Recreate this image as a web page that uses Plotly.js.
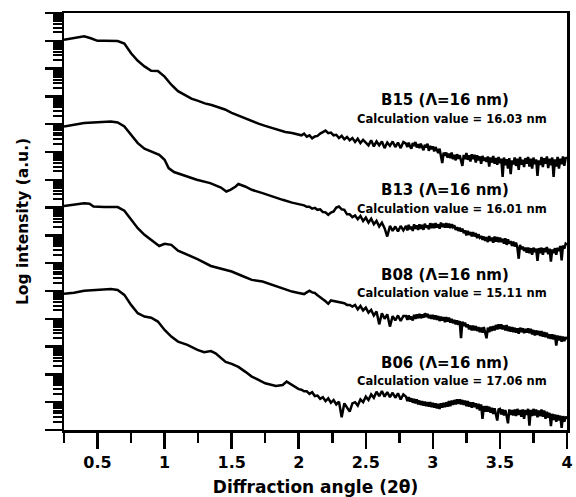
<!DOCTYPE html>
<html><head><meta charset="utf-8">
<script src="https://cdn.plot.ly/plotly-3.0.1.min.js"></script>
<style>html,body{margin:0;padding:0;background:#fff}#chart{width:576px;height:497px}</style>
</head><body><div id="chart"></div>
<script>
// Shared high-angle sampling (degrees 2θ)
const tailAngles = [
 2.02,2.04,2.06,2.08,2.10,2.12,2.14,2.16,2.18,2.20,
 2.22,2.24,2.26,2.28,2.30,2.32,2.34,2.36,2.38,2.40,
 2.42,2.44,2.46,2.48,2.50,2.52,2.54,2.56,2.58,2.60,
 2.62,2.64,2.66,2.68,2.70,2.72,2.74,2.76,2.78,
 2.80,2.81,2.82,2.83,2.84,2.85,2.86,2.87,2.88,2.89,
 2.90,2.91,2.92,2.93,2.94,2.95,2.96,2.97,2.98,2.99,
 3.00,3.01,3.02,3.03,3.04,3.05,3.06,3.07,3.08,3.09,
 3.10,3.11,3.12,3.13,3.14,3.15,3.16,3.17,3.18,3.19,
 3.20,3.21,3.22,3.23,3.24,3.25,3.26,3.27,3.28,3.29,
 3.30,3.31,3.32,3.33,3.34,3.35,3.36,3.37,3.38,3.39,
 3.40,3.41,3.42,3.43,3.44,3.45,3.46,3.47,3.48,3.49,
 3.50,3.51,3.52,3.53,3.54,3.55,3.56,3.57,3.58,3.59,
 3.60,3.61,3.62,3.63,3.64,3.65,3.66,3.67,3.68,3.69,
 3.70,3.71,3.72,3.73,3.74,3.75,3.76,3.77,3.78,3.79,
 3.80,3.81,3.82,3.83,3.84,3.85,3.86,3.87,3.88,3.89,
 3.90,3.91,3.92,3.93,3.94,3.95,3.96,3.97,3.98,3.99,
 4.00];

// log10 intensity values (offset curves)
const b15Angles = [0.25,0.30,0.35,0.40,0.45,0.50,0.55,0.60,0.65,0.70,0.75,0.80,0.85,0.90,0.95,1.00,1.05,1.10,1.15,1.20,1.25,1.30,1.35,1.40,1.45,1.50,1.55,1.60,1.65,1.70,1.75,1.80,1.85,1.90,1.95,2.00];
const b15Head = [14.04,14.08,14.13,14.16,14.09,14.00,14.00,14.00,13.99,13.90,13.55,13.28,13.08,12.92,12.91,12.71,12.42,12.19,12.04,11.92,11.84,11.75,11.69,11.61,11.53,11.41,11.31,11.21,11.10,11.02,10.94,10.86,10.78,10.72,10.68,10.63];
const b15Tail = [
 10.60,10.66,10.55,10.60,10.49,10.56,10.58,10.66,10.71,10.77,
 10.68,10.70,10.60,10.62,10.50,10.58,10.46,10.54,10.42,10.50,
 10.36,10.48,10.32,10.44,10.34,10.24,10.42,10.20,10.38,10.24,
 10.38,10.14,10.34,10.22,10.38,10.18,10.34,10.14,10.36,
 10.30,10.18,10.34,10.20,10.12,10.32,10.22,10.36,10.16,10.28,
 10.14,10.30,10.20,10.06,10.26,10.16,10.30,10.04,10.22,10.10,
 10.20,10.02,10.18,10.08,9.96,10.12,9.90,9.60,9.98,9.86,
 9.98,9.80,9.94,9.78,9.98,9.74,9.90,9.70,9.92,9.76,
 9.88,9.70,9.50,9.90,9.74,9.96,9.72,9.88,9.66,9.92,
 9.74,9.90,9.62,9.88,9.70,9.84,9.58,9.86,9.68,9.80,
 9.64,9.84,9.48,9.80,9.62,9.86,9.58,9.78,9.54,9.82,
 9.60,9.76,9.10,9.80,9.52,9.74,9.40,9.78,9.20,9.70,
 9.56,9.80,9.50,9.76,9.36,9.82,9.54,9.72,9.46,9.78,
 9.58,9.82,9.48,9.76,9.40,9.80,9.56,9.74,9.14,9.70,
 9.54,9.82,9.46,9.78,9.58,9.84,9.42,9.76,9.52,9.80,
 9.10,9.74,9.48,9.82,9.40,9.76,9.56,9.84,9.50,9.78,
 9.80];

const b13Angles = [0.25,0.40,0.60,0.65,0.70,0.75,0.80,0.85,0.90,0.96,1.00,1.03,1.07,1.15,1.24,1.34,1.42,1.46,1.49,1.53,1.55,1.60,1.65,1.73,1.80,1.88,1.95,2.00];
const b13Head = [10.92,11.04,11.10,11.06,10.92,10.62,10.32,10.12,10.02,9.90,9.72,9.42,9.28,9.15,9.00,8.88,8.72,8.58,8.64,8.76,8.85,8.76,8.64,8.52,8.40,8.28,8.18,8.13];
const b13Tail = [
 8.10,8.08,8.03,8.03,7.96,7.99,7.92,7.94,7.84,7.83,
 7.74,7.82,7.86,8.00,8.04,7.94,7.92,7.76,7.76,7.66,
 7.72,7.58,7.70,7.52,7.64,7.46,7.60,7.40,7.52,7.32,
 7.46,7.26,6.96,7.34,7.16,7.32,7.14,7.34,7.18,
 7.34,7.18,7.38,7.22,7.32,7.16,7.40,7.24,7.36,7.20,
 7.40,7.24,7.38,7.20,7.42,7.28,7.36,7.22,7.44,7.26,
 7.42,7.26,7.44,7.28,7.40,7.24,7.46,7.30,7.42,7.28,
 7.44,7.28,7.42,7.26,7.40,7.30,7.36,7.20,7.30,7.16,
 7.28,7.14,7.24,7.08,7.18,7.00,7.16,7.02,7.12,6.96,
 7.12,6.96,7.08,6.90,7.04,6.92,6.98,6.84,6.96,6.80,
 6.94,6.76,6.98,6.80,6.92,6.74,6.96,6.78,6.94,6.76,
 6.92,6.76,6.88,6.70,6.90,6.66,6.86,6.70,6.80,6.62,
 6.78,6.60,6.74,6.56,6.16,6.66,6.50,6.60,6.44,6.56,
 6.38,6.56,6.36,6.54,6.30,6.56,6.40,6.52,6.08,6.54,
 6.36,6.56,6.30,6.54,6.40,6.58,6.32,6.52,6.06,6.50,
 6.36,6.54,6.30,6.56,6.44,6.62,6.10,6.64,6.52,6.70,
 6.66];

const b08Angles = [0.25,0.325,0.40,0.44,0.47,0.55,0.65,0.70,0.75,0.80,0.85,0.90,0.96,1.00,1.05,1.10,1.17,1.245,1.345,1.42,1.50,1.58,1.65,1.73,1.80,1.88,1.95,2.00];
const b08Head = [8.06,8.10,8.16,8.14,8.04,8.02,8.02,7.89,7.56,7.26,7.02,6.84,6.62,6.70,6.66,6.45,6.30,6.15,5.90,5.79,5.70,5.54,5.40,5.34,5.22,5.10,4.98,4.93];
const b08Tail = [
 4.92,4.89,4.95,5.01,4.95,4.93,4.85,4.79,4.70,4.63,
 4.54,4.66,4.64,4.60,4.60,4.56,4.56,4.50,4.50,4.44,
 4.50,4.34,4.46,4.30,4.40,4.22,4.32,4.12,4.26,3.80,
 4.20,4.00,4.16,3.72,4.10,3.94,4.12,3.92,4.10,
 4.10,3.96,4.12,3.98,4.08,3.94,4.14,4.00,4.16,4.02,
 4.18,4.02,4.16,4.04,4.20,4.06,4.18,4.02,4.14,4.00,
 4.14,3.98,4.12,3.96,4.10,3.92,4.08,3.94,4.06,3.88,
 4.06,3.90,4.04,3.86,4.00,3.84,3.96,3.80,3.94,3.78,
 3.92,3.30,3.90,3.74,3.86,3.70,3.80,3.62,3.76,3.58,
 3.76,3.58,3.74,3.56,3.70,3.52,3.68,3.50,3.70,3.52,
 3.30,3.68,3.52,3.72,3.56,3.74,3.58,3.78,3.62,3.80,
 3.64,3.80,3.62,3.76,3.58,3.78,3.56,3.72,3.54,3.70,
 3.52,3.68,3.50,3.66,3.46,3.68,3.52,3.66,3.48,3.64,
 3.50,3.66,3.48,3.64,3.44,3.60,3.40,3.58,3.42,3.56,
 3.38,3.56,3.36,3.52,3.34,3.50,3.30,3.44,3.28,3.44,
 3.26,3.42,3.04,3.40,3.22,3.38,3.18,3.36,3.20,3.34,
 3.26];

const b06Angles = [0.25,0.325,0.40,0.50,0.60,0.65,0.70,0.75,0.80,0.85,0.90,0.95,1.00,1.05,1.10,1.17,1.245,1.295,1.345,1.38,1.42,1.455,1.50,1.55,1.60,1.65,1.70,1.75,1.83,1.88,1.91,1.95,2.00];
const b06Head = [4.90,4.94,5.01,5.04,5.07,5.04,4.86,4.50,4.20,4.08,4.04,3.90,3.60,3.36,3.18,3.06,2.88,2.80,2.84,2.76,2.59,2.45,2.38,2.27,2.10,1.92,1.80,1.68,1.58,1.62,1.74,1.62,1.47];
const b06Tail = [
 1.45,1.39,1.39,1.30,1.36,1.22,1.24,1.12,1.18,1.04,
 1.14,0.98,1.08,0.92,1.02,0.46,0.96,0.82,0.66,0.96,
 1.00,0.88,1.10,1.00,1.20,1.08,1.28,1.16,1.38,1.22,
 1.40,1.20,1.36,1.18,1.34,1.16,1.32,1.10,1.28,
 1.20,1.04,1.18,1.02,1.14,0.98,1.12,0.96,1.10,0.92,
 1.06,0.90,1.04,0.88,1.02,0.86,1.00,0.84,1.00,0.82,
 0.98,0.80,0.96,0.78,0.94,0.76,0.96,0.80,0.98,0.82,
 1.00,0.84,1.04,0.86,1.06,0.90,1.08,0.92,1.10,0.94,
 1.10,0.92,1.08,0.90,1.06,0.86,1.04,0.84,1.00,0.80,
 1.00,0.82,0.96,0.76,0.94,0.70,0.92,0.40,0.86,0.66,
 0.86,0.66,0.84,0.62,0.80,0.58,0.78,0.56,0.34,0.74,
 0.76,0.56,0.74,0.52,0.72,0.50,0.24,0.74,0.54,0.72,
 0.52,0.74,0.50,0.76,0.54,0.72,0.48,0.74,0.40,0.72,
 0.54,0.76,0.16,0.72,0.50,0.76,0.52,0.74,0.46,0.70,
 0.50,0.74,0.48,0.70,0.40,0.66,0.44,0.62,0.14,0.58,
 0.36,0.56,0.30,0.54,0.34,0.52,0.08,0.50,0.30,0.48,
 0.40];

const sampleNames = ['B15','B13','B08','B06'];
const periodLabels = ['B15 (Λ=16 nm)','B13 (Λ=16 nm)','B08 (Λ=16 nm)','B06 (Λ=16 nm)'];
const calcLabels = ['Calculation value = 16.03 nm','Calculation value = 16.01 nm','Calculation value = 15.11 nm','Calculation value = 17.06 nm'];
const xTickVals = [0.5,1,1.5,2,2.5,3,3.5,4];
const xTickText = ['0.5','1','1.5','2','2.5','3','3.5','4'];

const series = [
  [b15Angles,b15Head,b15Tail],
  [b13Angles,b13Head,b13Tail],
  [b08Angles,b08Head,b08Tail],
  [b06Angles,b06Head,b06Tail]
];

const traces = series.map((s,i)=>({
  type:'scatter', mode:'lines', name:sampleNames[i],
  x: s[0].concat(tailAngles),
  y: s[1].concat(s[2]).map(v=>Math.pow(10,v)),
  line:{color:'#000', width:2.5}, hoverinfo:'skip'
}));

const FONT = 'DejaVu Sans, Arial, sans-serif';
const labelY = [[0.792,0.745],[0.576,0.530],[0.372,0.328],[0.161,0.118]];
const annotations = [];
for (let i=0;i<4;i++){
  annotations.push({xref:'paper',yref:'paper',x:0.757,y:labelY[i][0],xanchor:'center',yanchor:'middle',showarrow:false,
    text:periodLabels[i],font:{family:FONT,size:15,color:'#000',weight:'bold'}});
  annotations.push({xref:'paper',yref:'paper',x:0.771,y:labelY[i][1],xanchor:'center',yanchor:'middle',showarrow:false,
    text:calcLabels[i],font:{family:FONT,size:11.5,color:'#000',weight:'bold'}});
}

const layout = {
  width:576, height:497,
  margin:{l:64,r:9,t:13,b:67},
  paper_bgcolor:'#fff', plot_bgcolor:'#fff',
  showlegend:false,
  font:{family:FONT,color:'#000'},
  xaxis:{
    range:[0.25,4], tickmode:'array', tickvals:xTickVals, ticktext:xTickText,
    ticks:'outside', ticklen:16, tickwidth:2.5, tickcolor:'#000',
    showline:true, linewidth:2.5, linecolor:'#000', mirror:true,
    showgrid:false, zeroline:false,
    tickfont:{family:FONT,size:16,color:'#000',weight:'bold'},
    minor:{tick0:0.25, dtick:0.5, ticks:'outside', ticklen:10, tickwidth:2.5, tickcolor:'#000', showgrid:false},
    title:{text:'Diffraction angle (2θ)', font:{family:FONT,size:17,color:'#000',weight:'bold'}, standoff:11},
    automargin:false
  },
  yaxis:{
    type:'log', range:[0,15], tick0:0, dtick:1,
    ticks:'outside', ticklen:17, tickwidth:2.5, tickcolor:'#000',
    showticklabels:false,
    showline:true, linewidth:2.5, linecolor:'#000', mirror:true,
    showgrid:false, zeroline:false,
    minor:{dtick:'D1', ticks:'outside', ticklen:9, tickwidth:2, tickcolor:'#000', showgrid:false},
    title:{text:'Log intensity (a.u.)', font:{family:FONT,size:15.5,color:'#000',weight:'bold'}, standoff:12},
    automargin:false
  },
  annotations: annotations
};

Plotly.newPlot('chart', traces, layout, {staticPlot:true, displayModeBar:false});
</script>
</body></html>
